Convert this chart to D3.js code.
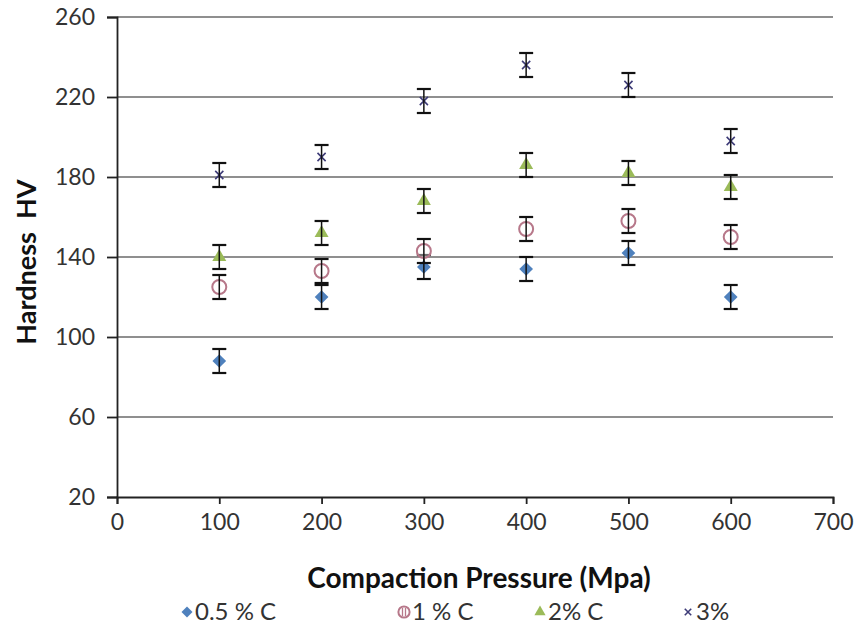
<!DOCTYPE html>
<html><head><meta charset="utf-8">
<script src="https://cdn.jsdelivr.net/npm/d3@7"></script>
<style>body{margin:0;background:#fff}svg{display:block}text{font-family:Lato,"Open Sans",sans-serif}</style>
</head><body><svg id="c" width="858" height="632"></svg>
<script>
const pressures = [100, 200, 300, 400, 500, 600];
const c05 = [88, 120, 135, 134, 142, 120];
const c05Err = [6, 6, 6, 6, 6, 6];
const c1 = [125, 133, 143, 154, 158, 150];
const c1Err = [6, 6, 6, 6, 6, 6];
const c2 = [140, 152, 168, 186, 182, 175];
const c2Err = [6, 6, 6, 6, 6, 6];
const c3 = [181, 190, 218, 236, 226, 198];
const c3Err = [6, 6, 6, 6, 6, 6];
const seriesNames = ["0.5 % C", "1 % C", "2% C", "3%"];
const xTicks = [0, 100, 200, 300, 400, 500, 600, 700];
const yTicks = [20, 60, 100, 140, 180, 220, 260];

const svg = d3.select("#c");
const x = d3.scaleLinear().domain([0, 700]).range([117, 833]);
const y = d3.scaleLinear().domain([20, 260]).range([497, 17]);

// gridlines
svg.append("g").selectAll("line").data(yTicks.filter(d => d > 20)).join("line")
  .attr("x1", x(0)).attr("x2", x(700)).attr("y1", d => y(d)).attr("y2", d => y(d))
  .attr("stroke", "#8f8f8f").attr("stroke-width", 2);

// axes
const yAxis = svg.append("g").attr("transform", `translate(${x(0)},0)`)
  .call(d3.axisLeft(y).tickValues(yTicks).tickSize(10).tickPadding(12));
const xAxis = svg.append("g").attr("transform", `translate(0,${y(20)})`)
  .call(d3.axisBottom(x).tickValues(xTicks).tickSize(7).tickPadding(10));
[yAxis, xAxis].forEach(a => {
  a.select(".domain").attr("stroke", "#222").attr("stroke-width", 1.8);
  a.selectAll(".tick line").attr("stroke", "#222").attr("stroke-width", 1.8);
  a.selectAll("text").attr("font-size", 23).attr("fill", "#333");
});

const series = [
  {name: seriesNames[0], vals: c05, err: c05Err, type: "diamond", color: "#4f81bd"},
  {name: seriesNames[1], vals: c1, err: c1Err, type: "circle", color: "#b7788a"},
  {name: seriesNames[2], vals: c2, err: c2Err, type: "triangle", color: "#9bbb59"},
  {name: seriesNames[3], vals: c3, err: c3Err, type: "cross", color: "#3e3c78"}
];

function drawMarker(g, type, color, scale, legend) {
  const s = scale || 1;
  if (type === "diamond") {
    g.append("path").attr("d", d3.symbol(d3.symbolDiamond2, 120 * s * s)()).attr("fill", color);
  } else if (type === "circle") {
    g.append("circle").attr("r", 7 * s).attr("fill", "#fff").attr("fill-opacity", 0.4)
      .attr("stroke", color).attr("stroke-width", 2);
    if (legend) {
      g.append("line").attr("x1", -1.5).attr("x2", -1.5).attr("y1", -4).attr("y2", 4).attr("stroke", color).attr("stroke-width", 1.3);
      g.append("line").attr("x1", 1.5).attr("x2", 1.5).attr("y1", -4).attr("y2", 4).attr("stroke", color).attr("stroke-width", 1.3);
    }
  } else if (type === "triangle") {
    g.append("path").attr("d", d3.symbol(d3.symbolTriangle, 85 * s * s)()).attr("fill", color);
  } else {
    g.append("path").attr("d", d3.symbol(d3.symbolX, 45 * s * s)()).attr("stroke", color)
      .attr("stroke-width", 1.6).attr("fill", "none");
  }
}

series.forEach(sr => {
  const g = svg.append("g");
  pressures.forEach((p, i) => {
    const cx = x(p), cy = y(sr.vals[i]);
    const mg = g.append("g").attr("transform", `translate(${cx},${cy})`);
    drawMarker(mg, sr.type, sr.color);
    const top = y(sr.vals[i] + sr.err[i]), bot = y(sr.vals[i] - sr.err[i]);
    const eg = g.append("g").attr("stroke", "#111").attr("stroke-width", 2.2);
    eg.append("line").attr("x1", cx).attr("x2", cx).attr("y1", top).attr("y2", bot).attr("stroke-width", 1.5);
    eg.append("line").attr("x1", cx - 7).attr("x2", cx + 7).attr("y1", top).attr("y2", top);
    eg.append("line").attr("x1", cx - 7).attr("x2", cx + 7).attr("y1", bot).attr("y2", bot);
  });
});

// axis titles
svg.append("text").attr("x", 479).attr("y", 588).attr("text-anchor", "middle")
  .attr("font-size", 28).attr("font-weight", "bold").attr("fill", "#111")
  .text("Compaction Pressure (Mpa)");
svg.append("text").attr("transform", "translate(36,262) rotate(-90)").attr("text-anchor", "middle")
  .attr("font-size", 27).attr("font-weight", "bold").attr("fill", "#111")
  .attr("xml:space", "preserve").text("Hardness  HV");

// legend
const legX = [187, 404, 540, 688];
series.forEach((sr, i) => {
  const lg = svg.append("g").attr("transform", `translate(${legX[i]},612)`);
  drawMarker(lg, sr.type, sr.color, 0.8, true);
  lg.append("text").attr("x", 8).attr("y", 8).attr("font-size", 24).attr("fill", "#333").text(sr.name);
});
</script></body></html>
